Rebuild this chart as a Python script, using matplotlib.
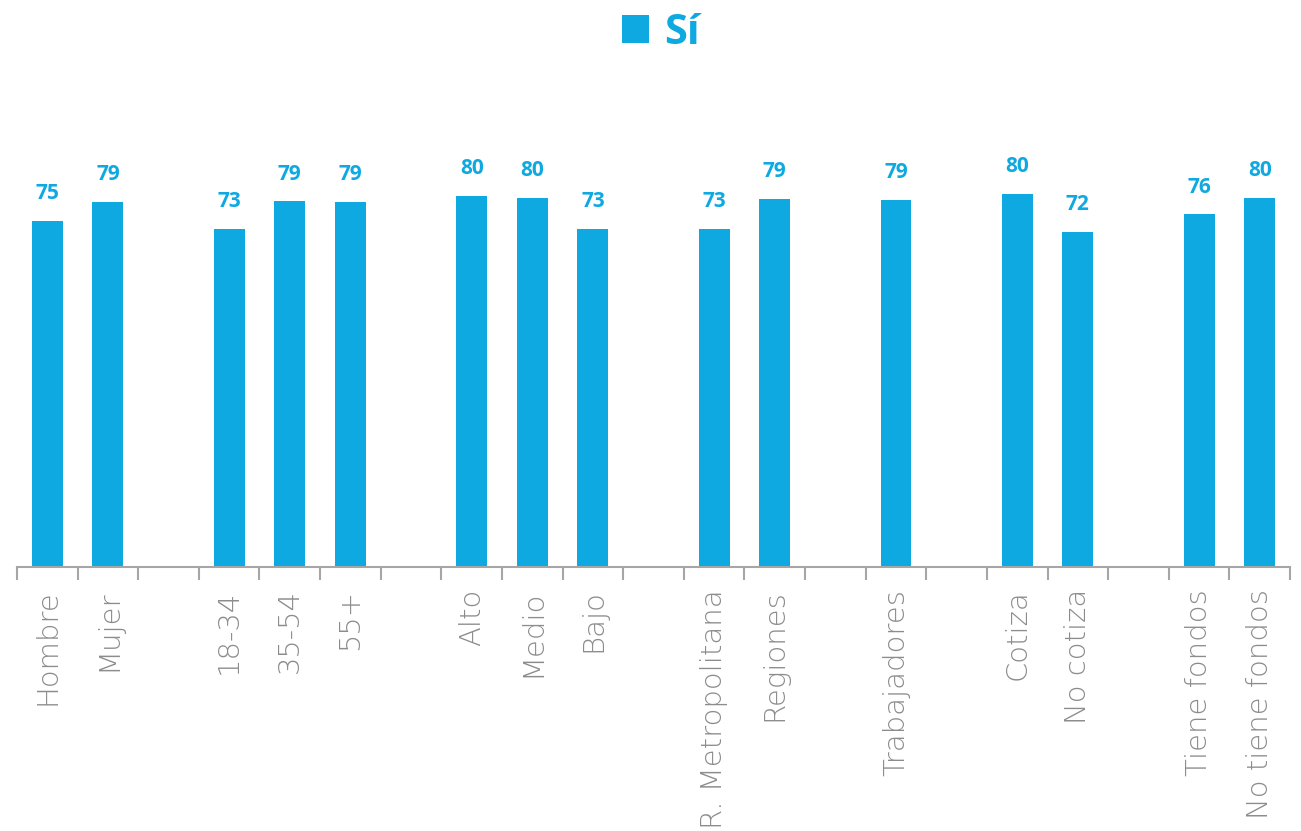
import matplotlib
matplotlib.use("Agg")
import matplotlib.pyplot as plt
import numpy as np

# categories (empty strings are the gaps between groups)
categories = ["Hombre", "Mujer", "", "18-34", "35-54", "55+", "", "Alto", "Medio", "Bajo", "",
              "R. Metropolitana", "Regiones", "", "Trabajadores", "", "Cotiza", "No cotiza", "",
              "Tiene fondos", "No tiene fondos"]
si_values = [74.7, 78.8, None, 73.0, 79.0, 78.8, None, 80.1, 79.7, 73.0, None,
             73.0, 79.5, None, 79.3, None, 80.6, 72.4, None, 76.2, 79.7]
si_labels = ["75", "79", "", "73", "79", "79", "", "80", "80", "73", "",
             "73", "79", "", "79", "", "80", "72", "", "76", "80"]

blue = "#0EA9E1"
gray = "#8C8C8C"

fig = plt.figure(figsize=(13.01, 8.31), dpi=100)
ax = fig.add_axes([17/1301, (831-567)/831, (1290-17)/1301, 463/831])

x = np.arange(len(categories))
vals = np.array([np.nan if v is None else v for v in si_values])
bars = ax.bar(x, np.nan_to_num(vals), width=0.51, color=blue, label="Sí")

for xi, v, lab in zip(x, vals, si_labels):
    if lab:
        ax.annotate(lab, (xi, v), xytext=(0, 12), textcoords="offset points",
                    ha="center", va="bottom", color=blue, fontsize=15,
                    fontweight="bold", family="Open Sans")

ax.set_xlim(-0.5, len(categories) - 0.5)
ax.set_ylim(0, 100)
ax.set_xticks(x)
ax.set_xticklabels(categories, rotation=90, color=gray, fontsize=21,
                   family="DejaVu Sans", fontweight="light")
ax.tick_params(axis="x", which="major", length=0, pad=16)
ax.set_xticks(np.arange(-0.5, len(categories), 1.0), minor=True)
ax.tick_params(axis="x", which="minor", length=9, color="#A6A6A6", width=1.5)
ax.set_yticks([])
for s in ["top", "left", "right"]:
    ax.spines[s].set_visible(False)
ax.spines["bottom"].set_color("#A6A6A6")
ax.spines["bottom"].set_linewidth(1.5)

leg = fig.legend(handles=[bars], labels=["Sí"], loc="upper center",
                 bbox_to_anchor=(0.508, 1.03), frameon=False, handlelength=0.65,
                 handleheight=0.65, handletextpad=0.35,
                 prop={"family": "Open Sans", "weight": "bold", "size": 30})
for t in leg.get_texts():
    t.set_color(blue)

fig.savefig("out.png", dpi=100)
